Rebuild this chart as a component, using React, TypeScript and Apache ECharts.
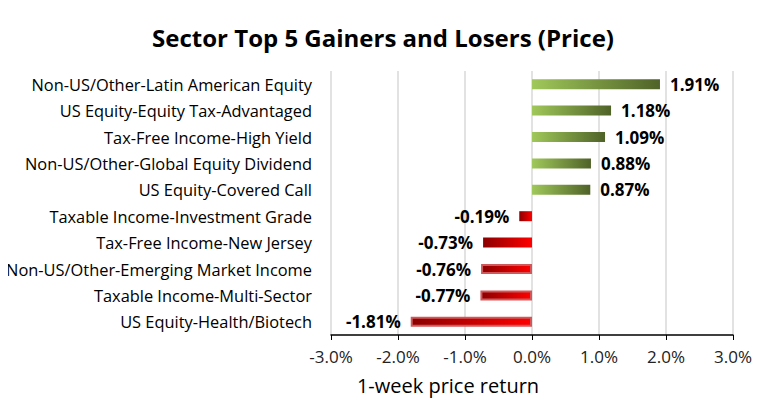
import React, { useEffect, useRef } from "react";
import * as echarts from "echarts";

const categories = [
  "Non-US/Other-Latin American Equity",
  "US Equity-Equity Tax-Advantaged",
  "Tax-Free Income-High Yield",
  "Non-US/Other-Global Equity Dividend",
  "US Equity-Covered Call",
  "Taxable Income-Investment Grade",
  "Tax-Free Income-New Jersey",
  "Non-US/Other-Emerging Market Income",
  "Taxable Income-Multi-Sector",
  "US Equity-Health/Biotech",
];
const values = [1.91, 1.18, 1.09, 0.88, 0.87, -0.19, -0.73, -0.76, -0.77, -1.81];
const bordered = [false, false, false, false, false, false, false, true, true, true];
const xTicks = [-3, -2, -1, 0, 1, 2, 3];

const FONT = "'Open Sans', 'Noto Sans', sans-serif";

export default function App() {
  const ref = useRef<HTMLDivElement>(null);
  useEffect(() => {
    if (!ref.current) return;
    const chart = echarts.init(ref.current, null, { renderer: "svg" });
    const green = new echarts.graphic.LinearGradient(0, 0, 1, 0, [
      { offset: 0, color: "#a0c85a" },
      { offset: 1, color: "#4f6228" },
    ]);
    const red = new echarts.graphic.LinearGradient(0, 0, 1, 0, [
      { offset: 0, color: "#8b0000" },
      { offset: 1, color: "#ff0000" },
    ]);
    chart.setOption({
      animation: false,
      backgroundColor: "#ffffff",
      title: {
        text: "Sector Top 5 Gainers and Losers (Price)",
        left: "center",
        top: 20,
        textStyle: { fontFamily: FONT, fontSize: 24, fontWeight: "bold", color: "#000" },
      },
      grid: { left: 331, right: 33, top: 71, bottom: 77 },
      xAxis: {
        type: "value",
        min: xTicks[0],
        max: xTicks[xTicks.length - 1],
        interval: 1,
        axisLine: { show: true, onZero: false, lineStyle: { color: "#000", width: 1.5 } },
        axisTick: { show: true, length: 5, lineStyle: { color: "#000" } },
        axisLabel: {
          margin: 13,
          fontFamily: FONT,
          fontSize: 17,
          color: "#222",
          formatter: (v: number) => v.toFixed(1) + "%",
        },
        splitLine: { show: true, lineStyle: { color: "#d9d9d9", width: 1.5 } },
      },
      yAxis: {
        type: "category",
        inverse: true,
        data: categories,
        axisLine: { show: false },
        axisTick: { show: false },
        axisLabel: { margin: 19, fontFamily: FONT, fontSize: 16.4, color: "#000" },
      },
      graphic: [
        {
          type: "rect",
          shape: { x: 0.5, y: 0.5, width: 765, height: 411 },
          style: { fill: "none", stroke: "#d9d9d9", lineWidth: 1 },
          silent: true,
        },
        {
          type: "text",
          x: 448,
          y: 385,
          style: {
            text: "1-week price return",
            fontFamily: FONT,
            fontSize: 20,
            fill: "#000",
            textAlign: "center",
            textVerticalAlign: "middle",
          },
        },
      ],
      series: [
        {
          type: "bar",
          barWidth: 10,
          data: values.map((v, i) => ({
            value: v,
            itemStyle: {
              color: v >= 0 ? green : red,
              borderColor: bordered[i] ? "#d0585a" : "transparent",
              borderWidth: bordered[i] ? 2 : 0,
            },
            label: {
              show: true,
              position: v >= 0 ? "right" : "left",
              distance: 10,
              formatter: (p: any) => p.value.toFixed(2) + "%",
              fontFamily: FONT,
              fontSize: 17,
              fontWeight: "bold",
              color: "#000",
            },
          })),
        },
      ],
    });
    return () => chart.dispose();
  }, []);
  return <div ref={ref} style={{ width: 766, height: 412, margin: -8 }} />;
}
